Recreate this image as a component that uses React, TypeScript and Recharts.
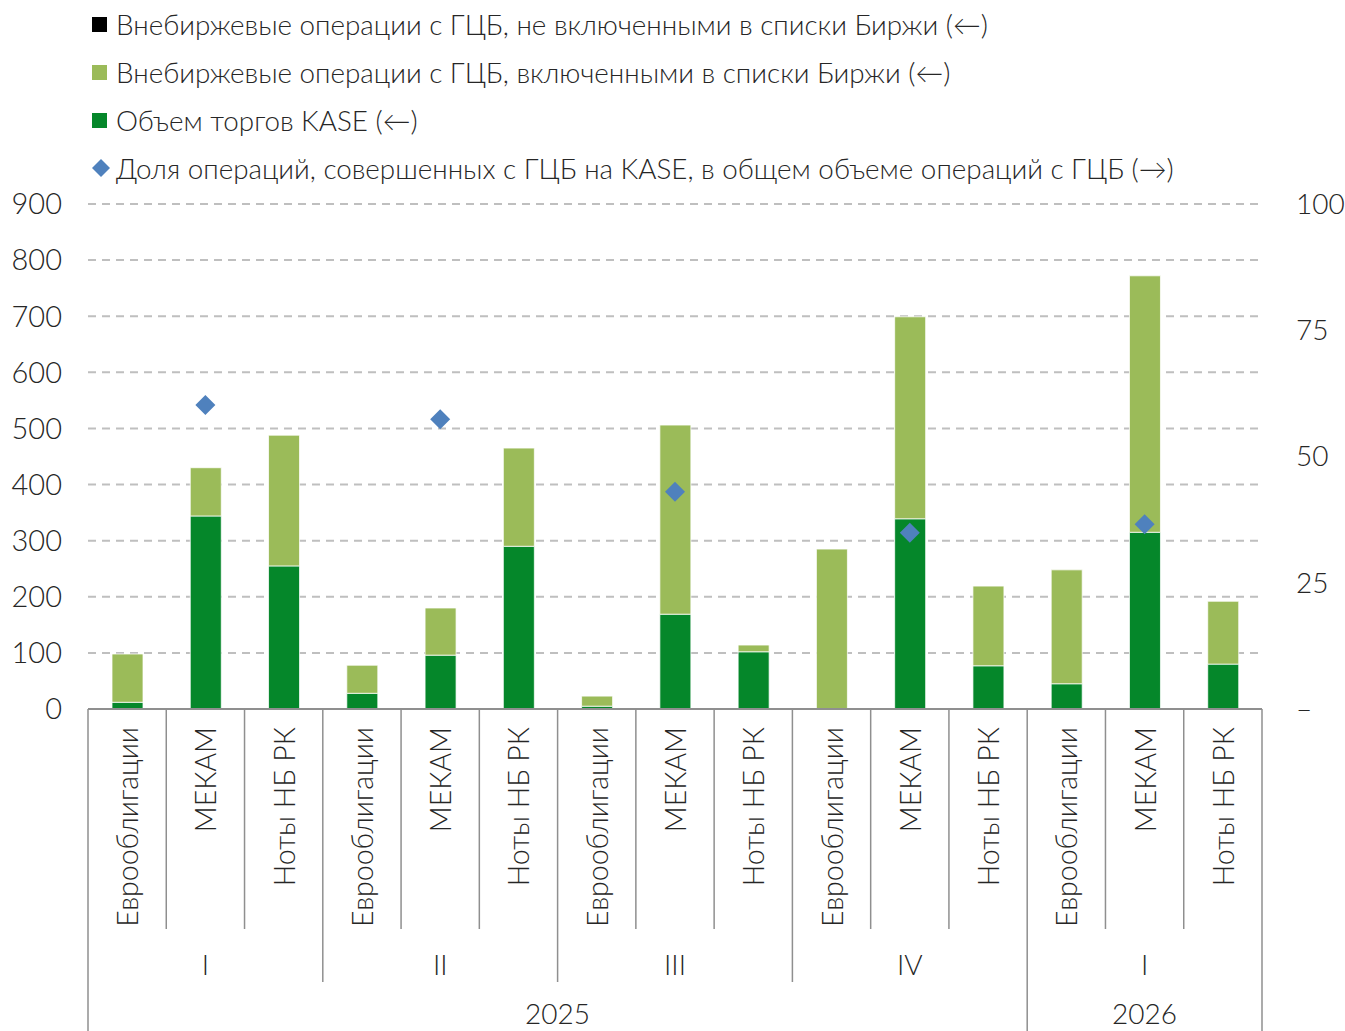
import React from 'react';
import { ComposedChart, Bar, Line, XAxis, YAxis, CartesianGrid, Legend } from 'recharts';

const instruments = [
  'Еврооблигации', 'МЕКАМ', 'Ноты НБ РК',
  'Еврооблигации', 'МЕКАМ', 'Ноты НБ РК',
  'Еврооблигации', 'МЕКАМ', 'Ноты НБ РК',
  'Еврооблигации', 'МЕКАМ', 'Ноты НБ РК',
  'Еврооблигации', 'МЕКАМ', 'Ноты НБ РК',
];
const quarters = ['I', 'I', 'I', 'II', 'II', 'II', 'III', 'III', 'III', 'IV', 'IV', 'IV', 'I', 'I', 'I'];
const years = ['2025', '2025', '2025', '2025', '2025', '2025', '2025', '2025', '2025', '2025', '2025', '2025', '2026', '2026', '2026'];

// left axis, bn tenge
const kaseVolume = [12, 344, 255, 28, 96, 290, 5, 169, 102, 0, 339, 77, 45, 315, 80];
const otcListed = [86, 86, 233, 50, 84, 175, 18, 337, 12, 285, 360, 142, 203, 457, 112];
const otcUnlisted = [0, 0, 0, 0, 0, 0, 0, 0, 0, 0, 0, 0, 0, 0, 0];
// right axis, %
const kaseShare = [null, 60.2, null, null, 57.4, null, null, 43.0, null, null, 34.9, null, null, 36.6, null];

const leftTicks = [0, 100, 200, 300, 400, 500, 600, 700, 800, 900];
const rightTicks = [0, 25, 50, 75, 100];

const data = instruments.map((name, i) => ({
  idx: i,
  name,
  kase: kaseVolume[i],
  listed: otcListed[i],
  unlisted: otcUnlisted[i],
  share: kaseShare[i],
}));

const FONT = 'Lato, "Noto Sans", sans-serif';
const TEXT = '#262626';
const LINE = '#8f8f8f';

const legendItems = [
  { label: 'Внебиржевые операции с ГЦБ, не включенными в списки Биржи (←)', color: '#000000', type: 'square' },
  { label: 'Внебиржевые операции с ГЦБ, включенными в списки Биржи (←)', color: '#9bbb59', type: 'square' },
  { label: 'Объем торгов KASE (←)', color: '#05872a', type: 'square' },
  { label: 'Доля операций, совершенных с ГЦБ на KASE, в общем объеме операций с ГЦБ (→)', color: '#4f81bd', type: 'diamond' },
];

const LegendBlock = () => (
  <div style={{ paddingLeft: 92, paddingTop: 0, fontFamily: FONT, fontWeight: 300, fontSize: 27.8, color: TEXT }}>
    {legendItems.map((it) => (
      <div key={it.label} style={{ display: 'flex', alignItems: 'center', height: 48, whiteSpace: 'nowrap' }}>
        {it.type === 'square' ? (
          <span style={{ display: 'inline-block', width: 15, height: 15, background: it.color, marginRight: 9 }} />
        ) : (
          <svg width={18} height={18} style={{ marginRight: 6 }}>
            <polygon points="9,0 18,9 9,18 0,9" fill={it.color} />
          </svg>
        )}
        <span>{it.label}</span>
      </div>
    ))}
  </div>
);

const GroupTick = (props: any) => {
  const { x, y, payload, index } = props;
  const half = payload.offset ?? 39.1;
  const i = index;
  const left = x - half;
  const newYear = i === 0 || years[i] !== years[i - 1];
  const newQuarter = newYear || quarters[i] !== quarters[i - 1];
  const sepEnd = newYear ? y + 330 : newQuarter ? y + 273 : y + 220;

  // quarter label at middle of quarter group
  let qStart = i;
  while (qStart > 0 && quarters[qStart - 1] === quarters[i] && years[qStart - 1] === years[i]) qStart--;
  let qEnd = i;
  while (qEnd < quarters.length - 1 && quarters[qEnd + 1] === quarters[i] && years[qEnd + 1] === years[i]) qEnd++;
  const yEndIdx = years.lastIndexOf(years[i]);

  const ly = y + 18;
  return (
    <g>
      <line x1={left} y1={y} x2={left} y2={sepEnd} stroke={LINE} strokeWidth={1.5} />
      {i === instruments.length - 1 && (
        <line x1={x + half} y1={y} x2={x + half} y2={y + 330} stroke={LINE} strokeWidth={1.5} />
      )}
      <text
        x={x}
        y={ly}
        transform={`rotate(-90, ${x}, ${ly})`}
        textAnchor="end"
        dominantBaseline="central"
        fill={TEXT}
        fontSize={28.5}
        fontFamily={FONT}
        fontWeight={300}
      >
        {instruments[i]}
      </text>
      {i === qStart && (
        <text
          x={x + (qEnd - qStart) * half}
          y={y + 255}
          textAnchor="middle"
          dominantBaseline="central"
          fill={TEXT}
          fontSize={28}
          fontFamily={FONT}
          fontWeight={300}
        >
          {quarters[i]}
        </text>
      )}
      {newYear && (
        <text
          x={x + (yEndIdx - i) * half}
          y={y + 304}
          textAnchor="middle"
          dominantBaseline="central"
          fill={TEXT}
          fontSize={28}
          fontFamily={FONT}
          fontWeight={300}
        >
          {years[i]}
        </text>
      )}
    </g>
  );
};

const Diamond = (props: any) => {
  const { cx, cy, payload } = props;
  if (payload == null || payload.share == null || cx == null || cy == null) return <g key={props.key} />;
  const r = 10;
  return (
    <polygon
      key={props.key}
      points={`${cx},${cy - r} ${cx + r},${cy} ${cx},${cy + r} ${cx - r},${cy}`}
      fill="#4f81bd"
    />
  );
};

export default function App() {
  return (
    <div style={{ position: 'absolute', left: 0, top: 0, background: '#fff' }}>
      <ComposedChart
        width={1345}
        height={1031}
        data={data}
        margin={{ top: 204, right: 0, bottom: 0, left: 8 }}
        barCategoryGap={0}
      >
        <Legend
          layout="horizontal"
          verticalAlign="middle"
          align="center"
          wrapperStyle={{ top: 0, left: 0, width: 1345 }}
          content={() => <LegendBlock />}
        />
        <CartesianGrid
          yAxisId="left"
          vertical={false}
          stroke="#bfbfbf"
          strokeWidth={2}
          strokeDasharray="8 6"
        />
        <XAxis
          dataKey="idx"
          type="category"
          interval={0}
          height={322}
          tickSize={0}
          tickMargin={0}
          tickLine={false}
          axisLine={{ stroke: LINE, strokeWidth: 2 }}
          tick={<GroupTick />}
        />
        <YAxis
          yAxisId="left"
          domain={[0, 900]}
          ticks={leftTicks}
          width={80}
          axisLine={false}
          tickLine={false}
          tickSize={0}
          tickMargin={26}
          tick={{ fill: TEXT, fontSize: 29, fontFamily: FONT, fontWeight: 300 }}
        />
        <YAxis
          yAxisId="right"
          orientation="right"
          domain={[0, 100]}
          ticks={rightTicks}
          width={83}
          axisLine={false}
          tickLine={false}
          tickSize={0}
          tickMargin={34}
          tickFormatter={(v: number) => (v === 0 ? '–' : String(v))}
          tick={{ fill: TEXT, fontSize: 28, fontFamily: FONT, fontWeight: 300 }}
        />
        <Bar yAxisId="left" dataKey="kase" stackId="a" fill="#05872a" barSize={31} stroke="#ffffff" strokeWidth={0.75} isAnimationActive={false} />
        <Bar yAxisId="left" dataKey="listed" stackId="a" fill="#9bbb59" barSize={31} stroke="#ffffff" strokeWidth={0.75} isAnimationActive={false} />
        <Bar yAxisId="left" dataKey="unlisted" stackId="a" fill="#000000" barSize={31} isAnimationActive={false} />
        <Line
          yAxisId="right"
          dataKey="share"
          stroke="none"
          dot={Diamond}
          activeDot={false}
          legendType="diamond"
          isAnimationActive={false}
        />
      </ComposedChart>
    </div>
  );
}
